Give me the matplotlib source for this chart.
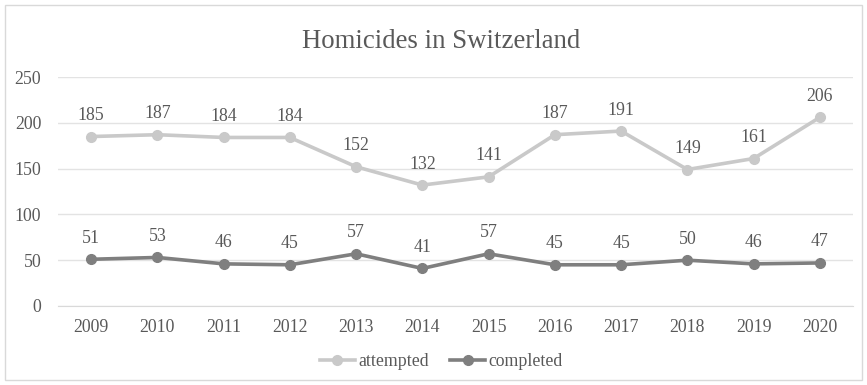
import matplotlib
matplotlib.use('AGG')
import matplotlib.pyplot as plt
from matplotlib.patches import Rectangle

years = ['2009', '2010', '2011', '2012', '2013', '2014', '2015', '2016', '2017', '2018', '2019', '2020']
attempted = [185, 187, 184, 184, 152, 132, 141, 187, 191, 149, 161, 206]
completed = [51, 53, 46, 45, 57, 41, 57, 45, 45, 50, 46, 47]

plt.rcParams['font.family'] = ['Liberation Serif', 'DejaVu Serif']
text_col = '#595959'
fs = 12.8

fig = plt.figure(figsize=(8.67, 3.85), dpi=100)
# chart border
fig.patches.append(Rectangle((5 / 867, 5 / 385), 857 / 867, 375 / 385, transform=fig.transFigure,
                             fill=False, edgecolor='#d9d9d9', linewidth=1))
ax = fig.add_axes([58 / 867, 1 - 306 / 385, 795 / 867, (306 - 77) / 385])

x = list(range(len(years)))
ax.plot(x, attempted, color='#c9c9c9', lw=2.6, marker='o', ms=7, label='attempted', zorder=3)
ax.plot(x, completed, color='#7f7f7f', lw=2.6, marker='o', ms=7, label='completed', zorder=3)

for xi, v in zip(x, attempted):
    ax.annotate(str(v), (xi, v), xytext=(0, 9), textcoords='offset points',
                ha='center', va='bottom', fontsize=fs, color=text_col)
for xi, v in zip(x, completed):
    ax.annotate(str(v), (xi, v), xytext=(0, 9), textcoords='offset points',
                ha='center', va='bottom', fontsize=fs, color=text_col)

ax.set_xlim(-0.5, len(years) - 0.5)
ax.set_ylim(0, 250)
ax.set_yticks(range(0, 251, 50))
ax.set_xticks(x)
ax.set_xticklabels(years)
ax.grid(axis='y', color='#e3e3e3', lw=1)
ax.set_axisbelow(True)
for s in ['top', 'right', 'left']:
    ax.spines[s].set_visible(False)
ax.spines['bottom'].set_color('#d9d9d9')
ax.tick_params(length=0, labelsize=fs, colors=text_col, pad=9.5)
ax.tick_params(axis='y', pad=12)

fig.text(441 / 867, 1 - 42 / 385, 'Homicides in Switzerland', ha='center', va='center',
         fontsize=19.3, color=text_col)

fig.legend(loc='center', bbox_to_anchor=(441 / 867, 1 - 362 / 385), ncol=2, frameon=False,
           fontsize=fs, labelcolor=text_col, handlelength=2.0, handletextpad=0.15,
           columnspacing=1.2)

fig.savefig('out.png', dpi=100)
